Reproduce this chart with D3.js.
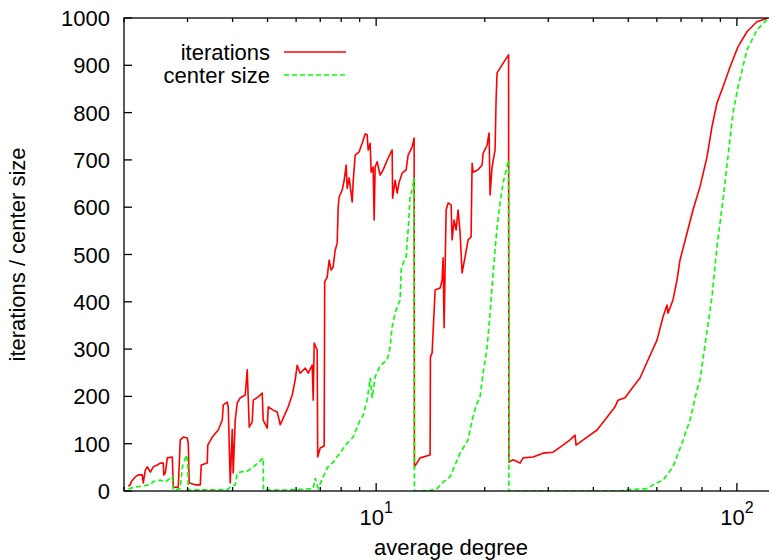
<!DOCTYPE html>
<html>
<head>
<meta charset="utf-8">
<script src="https://cdn.jsdelivr.net/npm/d3@7"></script>
<style>
  body { margin: 0; background: #fff; }
  svg { display: block; }
  text { font-family: "Liberation Sans", Arial, Helvetica, sans-serif; fill: #000; }
</style>
</head>
<body>
<svg id="chart" width="769" height="560"></svg>
<script>
// ---- data -------------------------------------------------------------
const seriesNames = ["iterations", "center size"];
const xTitle = "average degree";
const yTitle = "iterations / center size";

// iterations vs. average degree
const iterDeg = [2.056,2.082,2.096,2.150,2.191,2.247,2.262,2.291,2.321,2.366,2.411,2.474,2.522,2.570,2.578,2.603,2.637,2.722,2.740,2.828,
  2.864,2.920,2.995,3.014,3.033,3.152,3.254,3.275,3.403,3.414,3.513,3.650,3.745,3.769,3.866,3.890,3.940,3.991,4.016,4.068,
  4.120,4.200,4.336,4.392,4.448,4.534,4.563,4.711,4.832,4.863,4.990,5.022,5.184,5.318,5.421,5.525,5.704,5.852,5.965,6.041,
  6.158,6.358,6.481,6.649,6.691,6.734,6.864,6.886,6.996,7.177,7.200,7.316,7.409,7.505,7.601,7.698,7.798,7.847,7.898,8.050,
  8.154,8.258,8.311,8.418,8.580,8.635,8.746,8.972,9.145,9.322,9.442,9.502,9.624,9.686,9.811,9.873,9.936,10.064,10.258,10.457,
  10.796,11.075,11.110,11.289,11.434,11.581,11.804,12.109,12.264,12.581,12.743,12.767,13.241,14.112,14.140,14.293,14.570,15.042,15.235,15.333,
  15.431,15.629,15.830,16.135,16.239,16.447,16.659,16.873,17.090,17.309,17.643,17.984,18.331,18.449,18.567,19.169,19.664,19.790,20.301,20.562,
  20.693,20.959,21.364,21.501,21.638,22.057,22.340,22.771,23.285,23.330,23.964,25.058,25.543,27.225,29.019,30.930,32.967,34.472,35.590,35.818,
  38.421,40.952,43.649,45.935,46.822,48.961,51.524,53.877,56.697,60.049,62.392,64.004,64.413,66.503,68.220,69.537,72.713,75.550,79.00,82.61,
  85.28,88.05,91.49,95.66,100.67,106.62,113.64,121.89];
const iterVal = [10,13,20,30,34,34,17,44,51,40,51,55,59,59,34,38,70,72,8,8,
  108,114,112,101,17,13,13,55,59,97,114,129,150,182,188,178,17,130,38,150,
  186,197,203,256,135,146,192,199,207,150,133,178,171,167,140,154,178,203,235,266,
  249,260,249,266,192,313,298,72,91,95,442,452,488,467,474,509,524,600,622,636,
  657,689,640,662,611,653,710,717,735,755,753,721,735,674,685,573,685,696,668,679,
  704,721,619,657,630,653,672,679,710,727,746,51,70,76,283,292,425,429,446,493,
  345,594,609,605,531,573,552,594,545,461,495,531,537,693,674,679,689,714,731,757,
  626,685,721,827,884,894,901,911,922,61,66,59,70,72,80,82,97,108,118,97,
  114,129,156,178,192,197,220,239,277,319,368,393,376,404,446,488,545,594,643,706,
  770,820,854,896,939,971,992,1000];

// center size vs. average degree
const centerDeg = [2.056,2.082,2.219,2.366,2.411,2.522,2.603,2.688,2.722,2.740,2.864,2.901,2.976,3.005,3.014,3.866,3.940,4.068,4.120,4.200,
  4.392,4.563,4.711,4.863,4.873,5.668,6.691,6.777,6.907,7.316,7.601,8.311,8.635,9.029,9.204,9.442,9.624,9.748,9.936,10.258,
  10.727,10.934,11.075,11.289,11.434,11.654,11.729,11.880,12.109,12.264,12.422,12.581,12.743,12.767,14.112,14.757,15.333,16.033,17.090,17.984,
  18.449,18.926,19.415,19.791,20.301,20.693,21.093,21.638,22.057,22.483,23.285,23.330,47.425,49.589,56.336,58.537,62.392,66.503,70.430,74.118,
  77.50,79.00,85.28,88.05,91.49,94.44,97.51,100.67,106.62,113.64,121.12];
const centerVal = [4,6,10,13,20,23,19,27,30,2,5,50,76,60,2,3,8,13,38,40,
  42,51,60,70,2,2,5,27,6,49,61,101,114,150,160,192,239,197,241,265,
  277,304,347,376,389,404,467,482,495,552,622,636,662,0,1,5,19,30,80,108,
  150,180,200,249,304,376,461,558,610,651,700,0,0,3,5,13,23,51,101,150,
  213,235,410,516,615,706,799,854,932,975,996];

// axis ticks
const yTicks = [0,100,200,300,400,500,600,700,800,900,1000];
const xMajor = [10, 100];
const xMajorExp = ["1", "2"];
const xMinor = [2,3,4,5,6,7,8,9,20,30,40,50,60,70,80,90];

// ---- layout -------------------------------------------------------------
const plot = { left: 124, top: 18, right: 778, bottom: 491 };
const x = d3.scaleLog().domain([2, 130]).range([plot.left, plot.right]);
const y = d3.scaleLinear().domain([0, 1000]).range([plot.bottom, plot.top]);

const svg = d3.select("#chart");
svg.append("defs").append("clipPath").attr("id", "plotClip")
  .append("rect")
  .attr("x", plot.left).attr("y", plot.top)
  .attr("width", plot.right - plot.left).attr("height", plot.bottom - plot.top);

// ---- series -------------------------------------------------------------
const line = d3.line().x(d => x(d[0])).y(d => y(d[1]));
const lines = svg.append("g").attr("clip-path", "url(#plotClip)");
lines.append("path")
  .attr("d", line(d3.zip(iterDeg, iterVal)))
  .attr("fill", "none").attr("stroke", "#ff0000")
  .attr("stroke-width", 1.6).attr("stroke-linejoin", "round");
lines.append("path")
  .attr("d", line(d3.zip(centerDeg, centerVal)))
  .attr("fill", "none").attr("stroke", "#00ff00")
  .attr("stroke-width", 1.6).attr("stroke-dasharray", "5,3");

// ---- frame and ticks --------------------------------------------------
const axisG = svg.append("g").attr("stroke", "#000").attr("stroke-width", 1.3);
axisG.append("rect")
  .attr("x", plot.left).attr("y", plot.top)
  .attr("width", plot.right - plot.left).attr("height", plot.bottom - plot.top)
  .attr("fill", "none");

const majorLen = 8, minorLen = 4;
yTicks.forEach(v => {
  axisG.append("line").attr("x1", plot.left).attr("x2", plot.left + majorLen)
    .attr("y1", y(v)).attr("y2", y(v));
  axisG.append("line").attr("x1", plot.right).attr("x2", plot.right - majorLen)
    .attr("y1", y(v)).attr("y2", y(v));
});
xMajor.forEach(v => {
  axisG.append("line").attr("x1", x(v)).attr("x2", x(v))
    .attr("y1", plot.bottom).attr("y2", plot.bottom - majorLen);
  axisG.append("line").attr("x1", x(v)).attr("x2", x(v))
    .attr("y1", plot.top).attr("y2", plot.top + majorLen);
});
xMinor.forEach(v => {
  axisG.append("line").attr("x1", x(v)).attr("x2", x(v))
    .attr("y1", plot.bottom).attr("y2", plot.bottom - minorLen);
  axisG.append("line").attr("x1", x(v)).attr("x2", x(v))
    .attr("y1", plot.top).attr("y2", plot.top + minorLen);
});

// ---- labels -------------------------------------------------------------
const fs = 22;
svg.append("g").selectAll("text").data(yTicks).join("text")
  .attr("x", plot.left - 14).attr("y", d => y(d) + 8)
  .attr("text-anchor", "end").attr("font-size", fs)
  .text(d => d);

const xl = svg.append("g").selectAll("text").data(xMajor).join("text")
  .attr("x", d => x(d)).attr("y", 525)
  .attr("text-anchor", "middle").attr("font-size", fs);
xl.append("tspan").text("10");
xl.append("tspan").attr("dy", -12).attr("font-size", 16).text((d, i) => xMajorExp[i]);

svg.append("text")
  .attr("x", (plot.left + plot.right) / 2).attr("y", 555)
  .attr("text-anchor", "middle").attr("font-size", fs)
  .text(xTitle);

svg.append("text")
  .attr("transform", `translate(25,${(plot.top + plot.bottom) / 2}) rotate(-90)`)
  .attr("text-anchor", "middle").attr("font-size", fs)
  .text(yTitle);

// ---- legend -------------------------------------------------------------
const legendStyles = [
  { color: "#ff0000", dash: null },
  { color: "#00ff00", dash: "5,3" }
];
seriesNames.forEach((name, i) => {
  const ly = 60 + i * 23;
  svg.append("text").attr("x", 270).attr("y", ly)
    .attr("text-anchor", "end").attr("font-size", fs).text(name);
  svg.append("line")
    .attr("x1", 284).attr("x2", 346).attr("y1", ly - 8).attr("y2", ly - 8)
    .attr("stroke", legendStyles[i].color).attr("stroke-width", 1.6)
    .attr("stroke-dasharray", legendStyles[i].dash);
});
</script>
</body>
</html>
